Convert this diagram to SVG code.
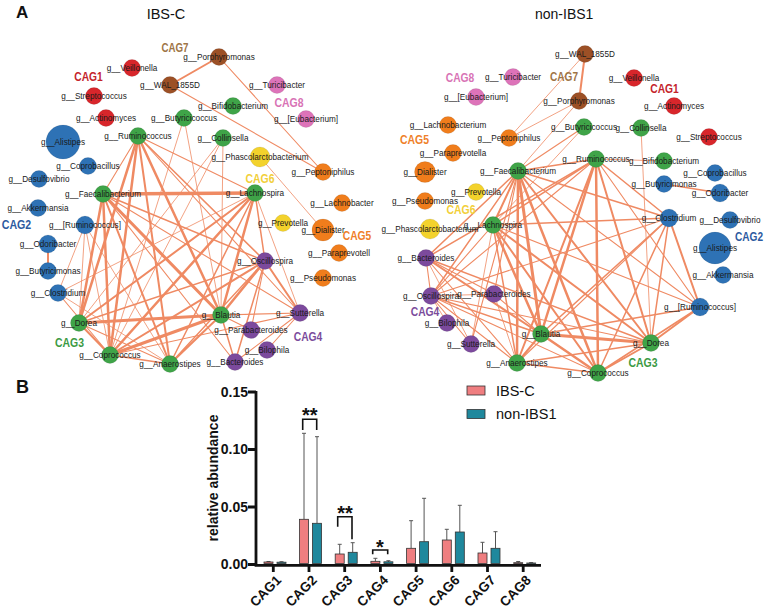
<svg xmlns="http://www.w3.org/2000/svg" width="767" height="611" viewBox="0 0 767 611">
<style>
text{font-family:"Liberation Sans",Arial,sans-serif}
.bg{fill:#fff}
.ed line{stroke:#ef8a63;stroke-linecap:round;fill:none}
.a{stroke-width:.8}.b{stroke-width:1.1}.c{stroke-width:1.5}.d{stroke-width:2}.e{stroke-width:2.5}.f{stroke-width:3}.g{stroke-width:3.6}
.n circle{stroke:#00000022;stroke-width:.6}
.n text{font-size:8.2px;fill:#1a1a1a;text-anchor:middle}
.red{fill:#d8262b}.brn{fill:#9c5026}.grn{fill:#3fa448}.blu{fill:#2e72b5}.pnk{fill:#dd73b9}.yel{fill:#f3d22c}.org{fill:#f07d1c}.pur{fill:#7c4a9d}
.cag{font-size:13px;font-weight:bold;text-anchor:middle}
.t1{fill:#c4232b}.t7{fill:#9e7446}.t8{fill:#d873b5}.t6{fill:#f2cf3a}.t5{fill:#ef7f2a}.t4{fill:#7b4c9c}.t3{fill:#3b9a43}.t2{fill:#2d5a9f}
.ax{stroke:#111;stroke-width:2.8;fill:none}
.tk{font-size:14px;font-weight:bold;fill:#111;text-anchor:end}
.xl{font-size:13.5px;font-weight:bold;fill:#111;text-anchor:end}
.p{fill:#ef7e80;stroke:#333;stroke-width:.8}
.q{fill:#1f889d;stroke:#333;stroke-width:.8}
.er{stroke:#555;stroke-width:1;fill:none}
.br{stroke:#111;stroke-width:1.6;fill:none}
.st{font-size:20px;font-weight:bold;fill:#111;text-anchor:middle}
</style>
<rect class="bg" width="767" height="611"/>
<text x="16" y="18" font-size="17" font-weight="bold" fill="#111">A</text>
<text x="166" y="18.5" font-size="14.5" fill="#111" text-anchor="middle">IBS-C</text>
<text x="535" y="18.5" font-size="14" fill="#111">non-IBS1</text>

<g id="edges-left" class="ed">
<line class="d" x1="219" y1="57" x2="170" y2="85"/>
<line class="b" x1="219" y1="57" x2="323" y2="172"/>
<line class="b" x1="170" y1="85" x2="323" y2="172"/>
<line class="a" x1="260" y1="157" x2="323" y2="230"/>
<line class="b" x1="138" y1="136" x2="103" y2="194"/>
<line class="e" x1="138" y1="136" x2="79" y2="323"/>
<line class="e" x1="138" y1="136" x2="110" y2="355"/>
<line class="d" x1="138" y1="136" x2="170" y2="364"/>
<line class="e" x1="138" y1="136" x2="221" y2="315"/>
<line class="b" x1="138" y1="136" x2="255" y2="193"/>
<line class="c" x1="138" y1="136" x2="265" y2="261"/>
<line class="b" x1="138" y1="136" x2="300" y2="313"/>
<line class="g" x1="103" y1="194" x2="255" y2="193"/>
<line class="e" x1="103" y1="194" x2="79" y2="323"/>
<line class="e" x1="103" y1="194" x2="110" y2="355"/>
<line class="d" x1="103" y1="194" x2="170" y2="364"/>
<line class="f" x1="103" y1="194" x2="221" y2="315"/>
<line class="c" x1="103" y1="194" x2="265" y2="261"/>
<line class="b" x1="103" y1="194" x2="300" y2="313"/>
<line class="b" x1="103" y1="194" x2="235" y2="362"/>
<line class="e" x1="255" y1="193" x2="221" y2="315"/>
<line class="d" x1="255" y1="193" x2="79" y2="323"/>
<line class="e" x1="255" y1="193" x2="110" y2="355"/>
<line class="c" x1="255" y1="193" x2="170" y2="364"/>
<line class="c" x1="255" y1="193" x2="265" y2="261"/>
<line class="a" x1="255" y1="193" x2="300" y2="313"/>
<line class="a" x1="255" y1="193" x2="58" y2="293"/>
<line class="f" x1="221" y1="315" x2="79" y2="323"/>
<line class="f" x1="221" y1="315" x2="110" y2="355"/>
<line class="d" x1="221" y1="315" x2="170" y2="364"/>
<line class="e" x1="221" y1="315" x2="265" y2="261"/>
<line class="b" x1="221" y1="315" x2="300" y2="313"/>
<line class="c" x1="221" y1="315" x2="235" y2="362"/>
<line class="b" x1="221" y1="315" x2="251" y2="330"/>
<line class="d" x1="79" y1="323" x2="110" y2="355"/>
<line class="c" x1="79" y1="323" x2="265" y2="261"/>
<line class="b" x1="79" y1="323" x2="170" y2="364"/>
<line class="c" x1="110" y1="355" x2="170" y2="364"/>
<line class="d" x1="110" y1="355" x2="265" y2="261"/>
<line class="b" x1="110" y1="355" x2="300" y2="313"/>
<line class="c" x1="170" y1="364" x2="265" y2="261"/>
<line class="d" x1="265" y1="261" x2="300" y2="313"/>
<line class="c" x1="265" y1="261" x2="235" y2="362"/>
<line class="b" x1="265" y1="261" x2="251" y2="330"/>
<line class="b" x1="300" y1="313" x2="267" y2="350"/>
<line class="b" x1="300" y1="313" x2="235" y2="362"/>
<line class="a" x1="85" y1="225" x2="79" y2="323"/>
<line class="a" x1="85" y1="225" x2="110" y2="355"/>
<line class="a" x1="85" y1="225" x2="170" y2="364"/>
<line class="a" x1="85" y1="225" x2="58" y2="293"/>
<line class="b" x1="58" y1="293" x2="110" y2="355"/>
<line class="a" x1="58" y1="293" x2="170" y2="364"/>
<line class="d" x1="48" y1="244" x2="48" y2="271"/>
<line class="a" x1="184" y1="118" x2="221" y2="315"/>
<line class="a" x1="184" y1="118" x2="110" y2="355"/>
<line class="a" x1="223" y1="138" x2="221" y2="315"/>
<line class="a" x1="223" y1="138" x2="79" y2="323"/>
<line class="a" x1="223" y1="138" x2="110" y2="355"/>
</g>

<g id="edges-right" class="ed">
<line class="d" x1="585" y1="54" x2="579" y2="101"/>
<line class="a" x1="585" y1="54" x2="509" y2="138"/>
<line class="a" x1="579" y1="101" x2="509" y2="138"/>
<line class="a" x1="579" y1="101" x2="518" y2="171"/>
<line class="b" x1="584" y1="127" x2="518" y2="171"/>
<line class="a" x1="584" y1="127" x2="493" y2="225"/>
<line class="a" x1="641" y1="128" x2="651" y2="343"/>
<line class="a" x1="664" y1="161" x2="596" y2="159"/>
<line class="c" x1="664" y1="184" x2="720" y2="193"/>
<line class="c" x1="518" y1="171" x2="596" y2="159"/>
<line class="d" x1="518" y1="171" x2="493" y2="225"/>
<line class="f" x1="518" y1="171" x2="541" y2="334"/>
<line class="d" x1="518" y1="171" x2="651" y2="343"/>
<line class="e" x1="518" y1="171" x2="598" y2="373"/>
<line class="e" x1="518" y1="171" x2="517" y2="363"/>
<line class="c" x1="518" y1="171" x2="669" y2="218"/>
<line class="b" x1="518" y1="171" x2="700" y2="307"/>
<line class="c" x1="518" y1="171" x2="431" y2="296"/>
<line class="c" x1="518" y1="171" x2="426" y2="258"/>
<line class="b" x1="518" y1="171" x2="494" y2="294"/>
<line class="b" x1="518" y1="171" x2="471" y2="344"/>
<line class="e" x1="596" y1="159" x2="541" y2="334"/>
<line class="d" x1="596" y1="159" x2="651" y2="343"/>
<line class="e" x1="596" y1="159" x2="598" y2="373"/>
<line class="d" x1="596" y1="159" x2="517" y2="363"/>
<line class="c" x1="596" y1="159" x2="493" y2="225"/>
<line class="c" x1="596" y1="159" x2="669" y2="218"/>
<line class="b" x1="596" y1="159" x2="700" y2="307"/>
<line class="c" x1="596" y1="159" x2="426" y2="258"/>
<line class="b" x1="596" y1="159" x2="431" y2="296"/>
<line class="e" x1="493" y1="225" x2="541" y2="334"/>
<line class="d" x1="493" y1="225" x2="651" y2="343"/>
<line class="d" x1="493" y1="225" x2="598" y2="373"/>
<line class="c" x1="493" y1="225" x2="517" y2="363"/>
<line class="c" x1="493" y1="225" x2="669" y2="218"/>
<line class="b" x1="493" y1="225" x2="431" y2="296"/>
<line class="a" x1="493" y1="225" x2="471" y2="344"/>
<line class="b" x1="493" y1="225" x2="700" y2="307"/>
<line class="f" x1="541" y1="334" x2="651" y2="343"/>
<line class="e" x1="541" y1="334" x2="598" y2="373"/>
<line class="d" x1="541" y1="334" x2="517" y2="363"/>
<line class="c" x1="541" y1="334" x2="669" y2="218"/>
<line class="c" x1="541" y1="334" x2="700" y2="307"/>
<line class="d" x1="541" y1="334" x2="426" y2="258"/>
<line class="c" x1="541" y1="334" x2="431" y2="296"/>
<line class="b" x1="541" y1="334" x2="494" y2="294"/>
<line class="d" x1="651" y1="343" x2="598" y2="373"/>
<line class="c" x1="651" y1="343" x2="669" y2="218"/>
<line class="d" x1="651" y1="343" x2="700" y2="307"/>
<line class="c" x1="651" y1="343" x2="426" y2="258"/>
<line class="b" x1="651" y1="343" x2="431" y2="296"/>
<line class="c" x1="651" y1="343" x2="517" y2="363"/>
<line class="c" x1="598" y1="373" x2="517" y2="363"/>
<line class="c" x1="598" y1="373" x2="669" y2="218"/>
<line class="c" x1="598" y1="373" x2="700" y2="307"/>
<line class="b" x1="598" y1="373" x2="431" y2="296"/>
<line class="b" x1="517" y1="363" x2="431" y2="296"/>
<line class="b" x1="517" y1="363" x2="669" y2="218"/>
<line class="b" x1="517" y1="363" x2="426" y2="258"/>
<line class="a" x1="517" y1="363" x2="494" y2="294"/>
<line class="d" x1="669" y1="218" x2="700" y2="307"/>
<line class="b" x1="669" y1="218" x2="431" y2="296"/>
<line class="b" x1="426" y1="258" x2="431" y2="296"/>
<line class="b" x1="426" y1="258" x2="494" y2="294"/>
<line class="a" x1="426" y1="258" x2="471" y2="344"/>
<line class="b" x1="431" y1="296" x2="471" y2="344"/>
<line class="a" x1="431" y1="296" x2="447" y2="323"/>
<line class="a" x1="431" y1="296" x2="494" y2="294"/>
</g>

<g id="left-nodes" class="n">
<g id="L-porphyromonas"><circle class="brn" cx="219" cy="57" r="8.5"/><text x="219" y="60">g__Porphyromonas</text></g>
<g id="L-veillonella"><circle class="red" cx="132" cy="68" r="8.5"/><text x="132" y="71">g__Veillonella</text></g>
<g id="L-wal1855d"><circle class="brn" cx="170" cy="85" r="8.5"/><text x="170" y="88">g__WAL_1855D</text></g>
<g id="L-turicibacter"><circle class="pnk" cx="277" cy="85" r="8.5"/><text x="277" y="88">g__Turicibacter</text></g>
<g id="L-streptococcus"><circle class="red" cx="94" cy="96" r="8.5"/><text x="94" y="99">g__Streptococcus</text></g>
<g id="L-bifidobacterium"><circle class="grn" cx="233" cy="106" r="8.5"/><text x="233" y="109">g__Bifidobacterium</text></g>
<g id="L-actinomyces"><circle class="red" cx="106" cy="118" r="8.5"/><text x="106" y="121">g__Actinomyces</text></g>
<g id="L-butyricicoccus"><circle class="grn" cx="184" cy="118" r="8.5"/><text x="184" y="121">g__Butyricicoccus</text></g>
<g id="L-eubacterium"><circle class="pnk" cx="306" cy="119" r="8.5"/><text x="306" y="122">g__[Eubacterium]</text></g>
<g id="L-ruminococcus"><circle class="grn" cx="138" cy="136" r="8.5"/><text x="138" y="139">g__Ruminococcus</text></g>
<g id="L-alistipes"><circle class="blu" cx="63" cy="142" r="17"/><text x="63" y="145">g__Alistipes</text></g>
<g id="L-collinsella"><circle class="grn" cx="223" cy="138" r="8.5"/><text x="223" y="141">g__Collinsella</text></g>
<g id="L-phascolarctobacterium"><circle class="yel" cx="260" cy="157" r="10"/><text x="260" y="160">g__Phascolarctobacterium</text></g>
<g id="L-coprobacillus"><circle class="blu" cx="88" cy="166" r="8.5"/><text x="88" y="169">g__Coprobacillus</text></g>
<g id="L-peptoniphilus"><circle class="org" cx="323" cy="172" r="8.5"/><text x="323" y="175">g__Peptoniphilus</text></g>
<g id="L-desulfovibrio"><circle class="blu" cx="39" cy="179" r="8.5"/><text x="39" y="182">g__Desulfovibrio</text></g>
<g id="L-faecalibacterium"><circle class="grn" cx="103" cy="194" r="8.5"/><text x="103" y="197">g__Faecalibacterium</text></g>
<g id="L-lachnospira"><circle class="grn" cx="255" cy="193" r="8.5"/><text x="255" y="196">g__Lachnospira</text></g>
<g id="L-lachnobacter"><circle class="org" cx="342" cy="203" r="8.5"/><text x="342" y="206">g__Lachnobacter</text></g>
<g id="L-akkermansia"><circle class="blu" cx="38" cy="208" r="8.5"/><text x="38" y="211">g__Akkermansia</text></g>
<g id="L-prevotella"><circle class="yel" cx="283" cy="223" r="8.5"/><text x="283" y="226">g__Prevotella</text></g>
<g id="L-ruminococcus2"><circle class="blu" cx="85" cy="225" r="9"/><text x="85" y="228">g__[Ruminococcus]</text></g>
<g id="L-dialister"><circle class="org" cx="323" cy="230" r="11"/><text x="323" y="233">g__Dialister</text></g>
<g id="L-odoribacter"><circle class="blu" cx="48" cy="244" r="9"/><text x="48" y="247">g__Odoribacter</text></g>
<g id="L-paraprevotella"><circle class="org" cx="339" cy="253" r="8.5"/><text x="339" y="256">g__Paraprevotell</text></g>
<g id="L-oscillospira"><circle class="pur" cx="265" cy="261" r="8.5"/><text x="265" y="264">g__Oscillospira</text></g>
<g id="L-butyricimonas"><circle class="blu" cx="48" cy="271" r="8.5"/><text x="48" y="274">g__Butyricimonas</text></g>
<g id="L-pseudomonas"><circle class="org" cx="323" cy="278" r="8.5"/><text x="323" y="281">g__Pseudomonas</text></g>
<g id="L-clostridium"><circle class="blu" cx="58" cy="293" r="8.5"/><text x="58" y="296">g__Clostridium</text></g>
<g id="L-sutterella"><circle class="pur" cx="300" cy="313" r="8.5"/><text x="300" y="316">g__Sutterella</text></g>
<g id="L-blautia"><circle class="grn" cx="221" cy="315" r="8.5"/><text x="221" y="318">g__Blautia</text></g>
<g id="L-dorea"><circle class="grn" cx="79" cy="323" r="8.5"/><text x="79" y="326">g__Dorea</text></g>
<g id="L-parabacteroides"><circle class="pur" cx="251" cy="330" r="8.5"/><text x="251" y="333">g__Parabacteroides</text></g>
<g id="L-bilophila"><circle class="pur" cx="267" cy="350" r="8.5"/><text x="267" y="353">g__Bilophila</text></g>
<g id="L-coprococcus"><circle class="grn" cx="110" cy="355" r="8.5"/><text x="110" y="358">g__Coprococcus</text></g>
<g id="L-bacteroides"><circle class="pur" cx="235" cy="362" r="8.5"/><text x="235" y="365">g__Bacteroides</text></g>
<g id="L-anaerostipes"><circle class="grn" cx="170" cy="364" r="8.5"/><text x="170" y="367">g__Anaerostipes</text></g>
</g>

<g id="right-nodes" class="n">
<g id="R-wal1855d"><circle class="brn" cx="585" cy="54" r="8.5"/><text x="585" y="57">g__WAL_1855D</text></g>
<g id="R-turicibacter"><circle class="pnk" cx="513" cy="77" r="8.5"/><text x="513" y="80">g__Turicibacter</text></g>
<g id="R-veillonella"><circle class="red" cx="634" cy="78" r="8.5"/><text x="634" y="81">g__Veillonella</text></g>
<g id="R-eubacterium"><circle class="pnk" cx="476" cy="97" r="8.5"/><text x="476" y="100">g__[Eubacterium]</text></g>
<g id="R-porphyromonas"><circle class="brn" cx="579" cy="101" r="8.5"/><text x="579" y="104">g__Porphyromonas</text></g>
<g id="R-actinomyces"><circle class="red" cx="674" cy="106" r="8.5"/><text x="674" y="109">g__Actinomyces</text></g>
<g id="R-lachnobacterium"><circle class="org" cx="448" cy="125" r="8.5"/><text x="448" y="128">g__Lachnobacterium</text></g>
<g id="R-butyricicoccus"><circle class="grn" cx="584" cy="127" r="8.5"/><text x="584" y="130">g__Butyricicoccus</text></g>
<g id="R-collinsella"><circle class="grn" cx="641" cy="128" r="8.5"/><text x="641" y="131">g__Collinsella</text></g>
<g id="R-streptococcus"><circle class="red" cx="709" cy="137" r="8.5"/><text x="709" y="140">g__Streptococcus</text></g>
<g id="R-peptoniphilus"><circle class="org" cx="509" cy="138" r="8.5"/><text x="509" y="141">g__Peptoniphilus</text></g>
<g id="R-paraprevotella"><circle class="org" cx="453" cy="153" r="8.5"/><text x="453" y="156">g__Paraprevotella</text></g>
<g id="R-ruminococcus"><circle class="grn" cx="596" cy="159" r="8.5"/><text x="596" y="162">g__Ruminococcus</text></g>
<g id="R-bifidobacterium"><circle class="grn" cx="664" cy="161" r="8.5"/><text x="664" y="164">g__Bifidobacterium</text></g>
<g id="R-dialister"><circle class="org" cx="425" cy="172" r="10.5"/><text x="425" y="175">g__Dialister</text></g>
<g id="R-faecalibacterium"><circle class="grn" cx="518" cy="171" r="8.5"/><text x="518" y="174">g__Faecalibacterium</text></g>
<g id="R-coprobacillus"><circle class="blu" cx="715" cy="173" r="8.5"/><text x="715" y="176">g__Coprobacillus</text></g>
<g id="R-butyricimonas"><circle class="blu" cx="664" cy="184" r="8.5"/><text x="664" y="187">g__Butyricimonas</text></g>
<g id="R-prevotella"><circle class="yel" cx="476" cy="192" r="8.5"/><text x="476" y="195">g__Prevotella</text></g>
<g id="R-odoribacter"><circle class="blu" cx="720" cy="193" r="9"/><text x="720" y="196">g__Odoribacter</text></g>
<g id="R-pseudomonas"><circle class="org" cx="425" cy="201" r="8.5"/><text x="425" y="204">g__Pseudomonas</text></g>
<g id="R-clostridium"><circle class="blu" cx="669" cy="218" r="9"/><text x="669" y="221">g__Clostridium</text></g>
<g id="R-desulfovibrio"><circle class="blu" cx="730" cy="220" r="8.5"/><text x="730" y="223">g__Desulfovibrio</text></g>
<g id="R-lachnospira"><circle class="grn" cx="493" cy="225" r="8.5"/><text x="493" y="228">g__Lachnospira</text></g>
<g id="R-phascolarctobacterium"><circle class="yel" cx="430" cy="229" r="10"/><text x="430" y="232">g__Phascolarctobacterium</text></g>
<g id="R-alistipes"><circle class="blu" cx="715" cy="248" r="16"/><text x="715" y="251">g__Alistipes</text></g>
<g id="R-bacteroides"><circle class="pur" cx="426" cy="258" r="8.5"/><text x="426" y="261">g__Bacteroides</text></g>
<g id="R-akkermansia"><circle class="blu" cx="723" cy="275" r="8.5"/><text x="723" y="278">g__Akkermansia</text></g>
<g id="R-parabacteroides"><circle class="pur" cx="494" cy="294" r="8.5"/><text x="494" y="297">g__Parabacteroides</text></g>
<g id="R-oscillospira"><circle class="pur" cx="431" cy="296" r="8.5"/><text x="431" y="299">g__Oscillospira</text></g>
<g id="R-ruminococcus2"><circle class="blu" cx="700" cy="307" r="9"/><text x="700" y="310">g__[Ruminococcus]</text></g>
<g id="R-bilophila"><circle class="pur" cx="447" cy="323" r="8.5"/><text x="447" y="326">g__Bilophila</text></g>
<g id="R-blautia"><circle class="grn" cx="541" cy="334" r="8.5"/><text x="541" y="337">g__Blautia</text></g>
<g id="R-dorea"><circle class="grn" cx="651" cy="343" r="8.5"/><text x="651" y="346">g__Dorea</text></g>
<g id="R-sutterella"><circle class="pur" cx="471" cy="344" r="8.5"/><text x="471" y="347">g__Sutterella</text></g>
<g id="R-anaerostipes"><circle class="grn" cx="517" cy="363" r="8.5"/><text x="517" y="366">g__Anaerostipes</text></g>
<g id="R-coprococcus"><circle class="grn" cx="598" cy="373" r="8.5"/><text x="598" y="376">g__Coprococcus</text></g>
</g>

<g id="cag-labels">
<text class="cag t1" x="88.5" y="80.5" textLength="28.5" lengthAdjust="spacingAndGlyphs">CAG1</text>
<text class="cag t7" x="175" y="51.5" textLength="27" lengthAdjust="spacingAndGlyphs">CAG7</text>
<text class="cag t8" x="289" y="106.5" textLength="29" lengthAdjust="spacingAndGlyphs">CAG8</text>
<text class="cag t6" x="260" y="182.5" textLength="29" lengthAdjust="spacingAndGlyphs">CAG6</text>
<text class="cag t5" x="357" y="239.5" textLength="28.5" lengthAdjust="spacingAndGlyphs">CAG5</text>
<text class="cag t4" x="308" y="340.5" textLength="28.5" lengthAdjust="spacingAndGlyphs">CAG4</text>
<text class="cag t3" x="69.5" y="346.5" textLength="29" lengthAdjust="spacingAndGlyphs">CAG3</text>
<text class="cag t2" x="16.5" y="228.5" textLength="29.5" lengthAdjust="spacingAndGlyphs">CAG2</text>
<text class="cag t8" x="460" y="81.5" textLength="28.5" lengthAdjust="spacingAndGlyphs">CAG8</text>
<text class="cag t7" x="564" y="80.5" textLength="28" lengthAdjust="spacingAndGlyphs">CAG7</text>
<text class="cag t1" x="664.5" y="92.5" textLength="28.5" lengthAdjust="spacingAndGlyphs">CAG1</text>
<text class="cag t5" x="414.5" y="143.5" textLength="29" lengthAdjust="spacingAndGlyphs">CAG5</text>
<text class="cag t6" x="461" y="213.5" textLength="29" lengthAdjust="spacingAndGlyphs">CAG6</text>
<text class="cag t4" x="425" y="315.5" textLength="28.5" lengthAdjust="spacingAndGlyphs">CAG4</text>
<text class="cag t2" x="749" y="240.5" textLength="28" lengthAdjust="spacingAndGlyphs">CAG2</text>
<text class="cag t3" x="643" y="366.5" textLength="29" lengthAdjust="spacingAndGlyphs">CAG3</text>
</g>

<g id="chart">
<text x="16" y="393" font-size="18" font-weight="bold" fill="#111">B</text>
<text transform="translate(218 478) rotate(-90)" font-size="14" font-weight="bold" fill="#111" text-anchor="middle">relative abundance</text>
<text class="tk" x="248" y="397">0.15</text>
<text class="tk" x="248" y="454">0.10</text>
<text class="tk" x="248" y="512">0.05</text>
<text class="tk" x="248" y="569">0.00</text>
<path class="ax" d="M256 391V565.4H541M248 392H256M248 449.5H256M248 507H256M248 564.5H256M273.3 564V572M309 564V572M344.7 564V572M380.4 564V572M416.1 564V572M451.8 564V572M487.5 564V572M523.2 564V572"/>
<g id="x-labels">
<text class="xl" transform="translate(282 581) rotate(-45)">CAG1</text>
<text class="xl" transform="translate(317.7 581) rotate(-45)">CAG2</text>
<text class="xl" transform="translate(353.4 581) rotate(-45)">CAG3</text>
<text class="xl" transform="translate(389.1 581) rotate(-45)">CAG4</text>
<text class="xl" transform="translate(424.8 581) rotate(-45)">CAG5</text>
<text class="xl" transform="translate(460.5 581) rotate(-45)">CAG6</text>
<text class="xl" transform="translate(496.2 581) rotate(-45)">CAG7</text>
<text class="xl" transform="translate(531.9 581) rotate(-45)">CAG8</text>
</g>
<g id="errors">
<path class="er" d="M268.5 562V561.5M266.5 561.5H270.5M281.5 562V561.7M279.5 561.7H283.5"/>
<path class="er" d="M304 519.3V433.3M302 433.3H306M317 523.3V436.7M315 436.7H319"/>
<path class="er" d="M339.7 554V544.3M337.7 544.3H341.7M352.7 552.3V542.7M350.7 542.7H354.7"/>
<path class="er" d="M375.4 561.7V558.3M373.4 558.3H377.4M388.4 562.3V560.7M386.4 560.7H390.4"/>
<path class="er" d="M411.1 548.3V520.7M409.1 520.7H413.1M424.1 541.7V498.3M422.1 498.3H426.1"/>
<path class="er" d="M446.8 540V529.3M444.8 529.3H448.8M459.8 532V505.3M457.8 505.3H461.8"/>
<path class="er" d="M482.5 553V542.3M480.5 542.3H484.5M495.5 548.3V531.7M493.5 531.7H497.5"/>
<path class="er" d="M518.2 562.8V561.5M516.2 561.5H520.2M531.2 563V562.6M529.2 562.6H533.2"/>
</g>
<g id="bars">
<rect class="p" x="264" y="562" width="9" height="1.5"/>
<rect class="q" x="277" y="562.2" width="9" height="1.3"/>
<rect class="p" x="299.5" y="519.3" width="9" height="44.2"/>
<rect class="q" x="312.5" y="523.3" width="9" height="40.2"/>
<rect class="p" x="335.2" y="554" width="9" height="9.5"/>
<rect class="q" x="348.2" y="552.3" width="9" height="11.2"/>
<rect class="p" x="370.9" y="561.3" width="9" height="2.2"/>
<rect class="q" x="383.9" y="561.8" width="9" height="1.7"/>
<rect class="p" x="406.6" y="548.3" width="9" height="15.2"/>
<rect class="q" x="419.6" y="541.7" width="9" height="21.8"/>
<rect class="p" x="442.3" y="540" width="9" height="23.5"/>
<rect class="q" x="455.3" y="532" width="9" height="31.5"/>
<rect class="p" x="478" y="553" width="9" height="10.5"/>
<rect class="q" x="491" y="548.3" width="9" height="15.2"/>
<rect class="p" x="513.7" y="562.7" width="9" height="0.8"/>
<rect class="q" x="526.7" y="563" width="9" height="0.5"/>
</g>
<g id="significance">
<path class="br" d="M302.7 430V419.3H316.7V430"/>
<text class="st" x="309.7" y="422">**</text>
<path class="br" d="M337.7 526.7V516.7H352V539.3"/>
<text class="st" x="345" y="520">**</text>
<path class="br" d="M372.7 554.3V550H387.7V554.3"/>
<text class="st" x="380" y="554">*</text>
</g>
<g id="legend">
<rect x="467" y="386" width="18" height="9" fill="#ef7e80" stroke="#333" stroke-width=".8"/>
<text x="496" y="396" font-size="14.5" fill="#111">IBS-C</text>
<rect x="467" y="409.5" width="18" height="9" fill="#1f889d" stroke="#333" stroke-width=".8"/>
<text x="496" y="419.3" font-size="14.5" fill="#111">non-IBS1</text>
</g>
</g>
</svg>
